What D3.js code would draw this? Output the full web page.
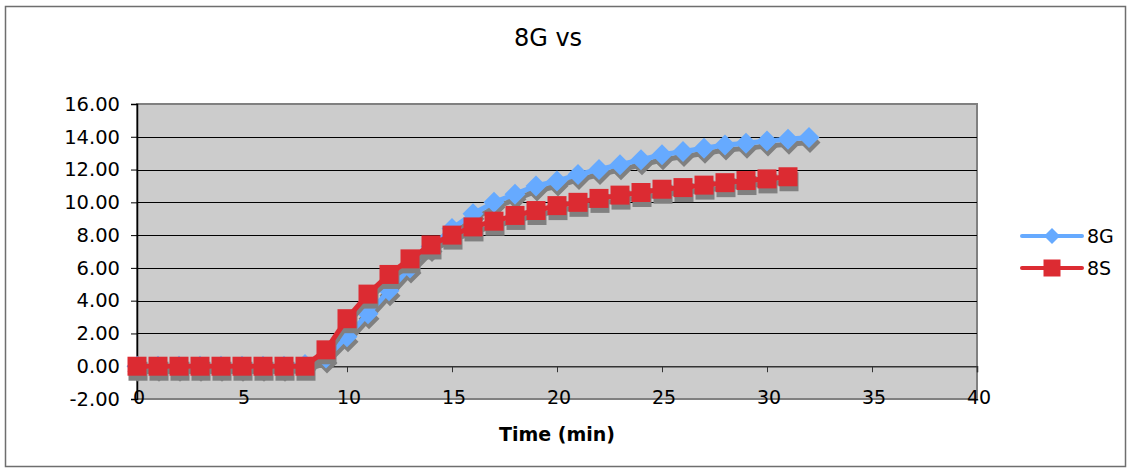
<!DOCTYPE html>
<html>
<head>
<meta charset="utf-8">
<script src="https://cdn.jsdelivr.net/npm/d3@7"></script>
<style>
  html, body { margin: 0; padding: 0; background: #fff; }
  svg { display: block; font-family: "DejaVu Sans", Verdana, sans-serif; }
</style>
</head>
<body>
<svg id="chart" width="1130" height="470"></svg>
<script>
// Time axis (minutes) and the two measured series
const time8G = d3.range(0, 33);
const values8G = [0, 0, 0, 0, 0, 0, 0, 0, 0.1, 0.5, 1.8, 3.2, 4.6, 6.0, 7.3, 8.4,
  9.3, 10.0, 10.5, 11.0, 11.3, 11.7, 12.0, 12.3, 12.6, 12.9, 13.1, 13.3, 13.5, 13.6,
  13.75, 13.85, 13.95];
const time8S = d3.range(0, 32);
const values8S = [0, 0, 0, 0, 0, 0, 0, 0, 0, 1.0, 2.9, 4.4, 5.6, 6.55, 7.4, 8.0,
  8.5, 8.85, 9.2, 9.5, 9.8, 10.0, 10.24, 10.44, 10.6, 10.8, 10.9, 11.05, 11.2, 11.33,
  11.43, 11.56];
const xTicks = [0, 5, 10, 15, 20, 25, 30, 35, 40];
const yTicks = [-2, 0, 2, 4, 6, 8, 10, 12, 14, 16];
const seriesNames = ["8G", "8S"];
const seriesColors = ["#66aaff", "#dc2b32"];

const svg = d3.select("#chart");
const plot = { left: 137, right: 977, top: 104, bottom: 399 };

const x = d3.scaleLinear().domain([0, 40]).range([plot.left, plot.right]);
const y = d3.scaleLinear().domain([-2, 16]).range([plot.bottom, plot.top]);

// outer chart frame
svg.append("rect").attr("x", 5.5).attr("y", 6.5).attr("width", 1120).attr("height", 460)
  .attr("fill", "#fff").attr("stroke", "#6e6e6e").attr("stroke-width", 1.5);

// title
svg.append("text").attr("x", 548).attr("y", 46).attr("text-anchor", "middle")
  .attr("font-size", 24).attr("fill", "#000").text("8G vs");

// plot background
svg.append("rect").attr("x", plot.left).attr("y", plot.top)
  .attr("width", plot.right - plot.left).attr("height", plot.bottom - plot.top)
  .attr("fill", "#cccccc").attr("stroke", "#808080").attr("stroke-width", 2);

// horizontal gridlines
svg.append("g").selectAll("line").data(yTicks.filter(v => v > -2 && v < 16 && v !== 0))
  .join("line")
  .attr("x1", plot.left).attr("x2", plot.right)
  .attr("y1", d => Math.round(y(d)) + 0.5).attr("y2", d => Math.round(y(d)) + 0.5)
  .attr("stroke", "#000").attr("stroke-width", 1);

// y axis, labels with two decimals and a plain hyphen for negatives
const yAxis = d3.axisLeft(y).tickValues(yTicks).tickSize(6).tickPadding(11)
  .tickFormat(d => d.toFixed(2));
const yG = svg.append("g").attr("transform", `translate(${plot.left},0)`).call(yAxis);
yG.select(".domain").attr("stroke", "#000").attr("stroke-width", 1.5);
yG.selectAll(".tick line").attr("stroke", "#000");
yG.selectAll("text").attr("font-size", 19.5).attr("fill", "#000")
  .attr("font-family", "DejaVu Sans, Verdana, sans-serif");

// x axis crosses at zero, labels sit below the plot area
const xAxis = d3.axisBottom(x).tickValues(xTicks).tickSize(6).tickFormat("");
const xG = svg.append("g").attr("transform", `translate(0,${y(0)})`).call(xAxis);
xG.select(".domain").attr("stroke", "#333").attr("stroke-width", 1.5);
xG.selectAll(".tick line").attr("stroke", "#333");
svg.append("g").selectAll("text").data(xTicks).join("text")
  .attr("x", d => x(d) + 2).attr("y", plot.bottom + 5)
  .attr("text-anchor", "middle").attr("font-size", 19).attr("fill", "#000")
  .text(d => d);

// x axis title
svg.append("text").attr("x", 557).attr("y", 441).attr("text-anchor", "middle")
  .attr("font-size", 19).attr("font-weight", "bold").attr("fill", "#000")
  .text("Time (min)");

const diamond = r => `M0,${-r}L${r},0L0,${r}L${-r},0Z`;
const square = s => `M${-s / 2},${-s / 2}h${s}v${s}h${-s}Z`;

const series = [
  { name: seriesNames[0], t: time8G, v: values8G, color: seriesColors[0], shape: diamond(10.5) },
  { name: seriesNames[1], t: time8S, v: values8S, color: seriesColors[1], shape: square(19) }
];

const line = d3.line().x(d => x(d[0])).y(d => y(d[1]));

function drawSeries(g, s, color) {
  const pts = s.t.map((t, i) => [t, s.v[i]]);
  g.append("path").attr("d", line(pts)).attr("fill", "none")
    .attr("stroke", color).attr("stroke-width", 5).attr("stroke-linejoin", "round");
  g.selectAll("path.m").data(pts).join("path").attr("class", "m")
    .attr("transform", d => `translate(${x(d[0])},${y(d[1])})`)
    .attr("d", s.shape).attr("fill", color);
}

// each series: grey drop shadow first, then the coloured line and markers
series.forEach(s => {
  const sh = svg.append("g").attr("transform", "translate(1,5)");
  drawSeries(sh, s, "#808080");
  drawSeries(svg.append("g"), s, s.color);
});

// legend
const legend = svg.append("g");
series.forEach((s, i) => {
  const ly = 236 + i * 32;
  legend.append("line").attr("x1", 1022).attr("x2", 1082).attr("y1", ly).attr("y2", ly)
    .attr("stroke", s.color).attr("stroke-width", 4).attr("stroke-linecap", "round");
  legend.append("path").attr("transform", `translate(1052,${ly})`)
    .attr("d", i === 0 ? diamond(8) : square(17)).attr("fill", s.color);
  legend.append("text").attr("x", 1087).attr("y", ly + 7).attr("font-size", 19)
    .attr("fill", "#000").text(s.name);
});
</script>
</body>
</html>
